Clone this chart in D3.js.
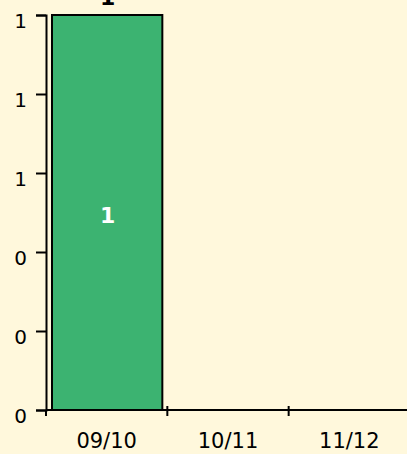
<!DOCTYPE html>
<html>
<head>
<meta charset="utf-8">
<script src="https://cdn.jsdelivr.net/npm/d3@7"></script>
<style>
  html, body { margin: 0; padding: 0; background: #fff8dc; }
  svg { display: block; font-family: Verdana, "DejaVu Sans", sans-serif; }
</style>
</head>
<body>
<svg id="chart" width="407" height="454"></svg>
<script>
const categories = ["09/10", "10/11", "11/12"];
const values = [1, null, null];
const yTicks = [0, 0.2, 0.4, 0.6, 0.8, 1];

const W = 407, H = 454;
const margin = { top: 15, left: 46, bottom: 44 };
const plotRight = 410;
const FONT = "Verdana, 'DejaVu Sans', sans-serif";

const svg = d3.select("#chart");
svg.append("rect").attr("width", W).attr("height", H).attr("fill", "#fff8dc");

const x = d3.scaleBand().domain(categories).range([margin.left, plotRight]).padding(0);
const y = d3.scaleLinear().domain([0, 1]).range([H - margin.bottom, margin.top]);

const data = categories.map((c, i) => ({ cat: c, v: values[i] })).filter(d => d.v != null);

// bars
const inset = 6;
svg.selectAll(".bar").data(data).enter().append("rect")
  .attr("class", "bar")
  .attr("x", d => x(d.cat) + inset)
  .attr("width", x.bandwidth() - 2 * inset + 1)
  .attr("y", d => y(d.v))
  .attr("height", d => y(0) - y(d.v))
  .attr("fill", "#3cb371")
  .attr("stroke", "#000")
  .attr("stroke-width", 2);

// value labels inside
svg.selectAll(".lbl").data(data).enter().append("text")
  .attr("x", d => x(d.cat) + x.bandwidth() / 2 + 1)
  .attr("y", d => (y(d.v) + y(0)) / 2 + 10.5)
  .attr("text-anchor", "middle")
  .attr("fill", "#fff")
  .attr("font-weight", "bold")
  .attr("font-size", 22)
  .text(d => d3.format(".0f")(d.v));

// value labels above (clipped at top)
svg.selectAll(".top").data(data).enter().append("text")
  .attr("x", d => x(d.cat) + x.bandwidth() / 2 + 1)
  .attr("y", d => y(d.v) - 10)
  .attr("text-anchor", "middle")
  .attr("fill", "#000")
  .attr("font-weight", "bold")
  .attr("font-size", 22)
  .text(d => d3.format(".0f")(d.v));

// y axis
const yAxis = d3.axisLeft(y).tickValues(yTicks).tickFormat(d3.format(".0f"))
  .tickSize(10).tickPadding(9);
const gy = svg.append("g").attr("transform", `translate(${margin.left},0)`).call(yAxis);
gy.selectAll("text").attr("font-size", 20).attr("fill", "#000").attr("dy", "0.6em")
  .style("font-family", FONT);
gy.selectAll("line").attr("stroke", "#000").attr("stroke-width", 2);
gy.select(".domain").attr("stroke", "#000").attr("stroke-width", 2);

// x axis
const y0 = y(0);
const gx = svg.append("g");
gx.append("line").attr("x1", margin.left).attr("x2", plotRight).attr("y1", y0).attr("y2", y0)
  .attr("stroke", "#000").attr("stroke-width", 2);
gx.selectAll(".xt").data(categories).enter().append("line")
  .attr("x1", d => x(d)).attr("x2", d => x(d))
  .attr("y1", (d, i) => i === 0 ? y0 : y0 - 4).attr("y2", y0 + 6)
  .attr("stroke", "#000").attr("stroke-width", 2);
gx.selectAll(".xl").data(categories).enter().append("text")
  .attr("x", d => x(d) + x.bandwidth() / 2)
  .attr("y", y0 + 38)
  .attr("text-anchor", "middle")
  .attr("font-size", 21)
  .attr("fill", "#000")
  .style("font-family", FONT)
  .text(d => d);
</script>
</body>
</html>
